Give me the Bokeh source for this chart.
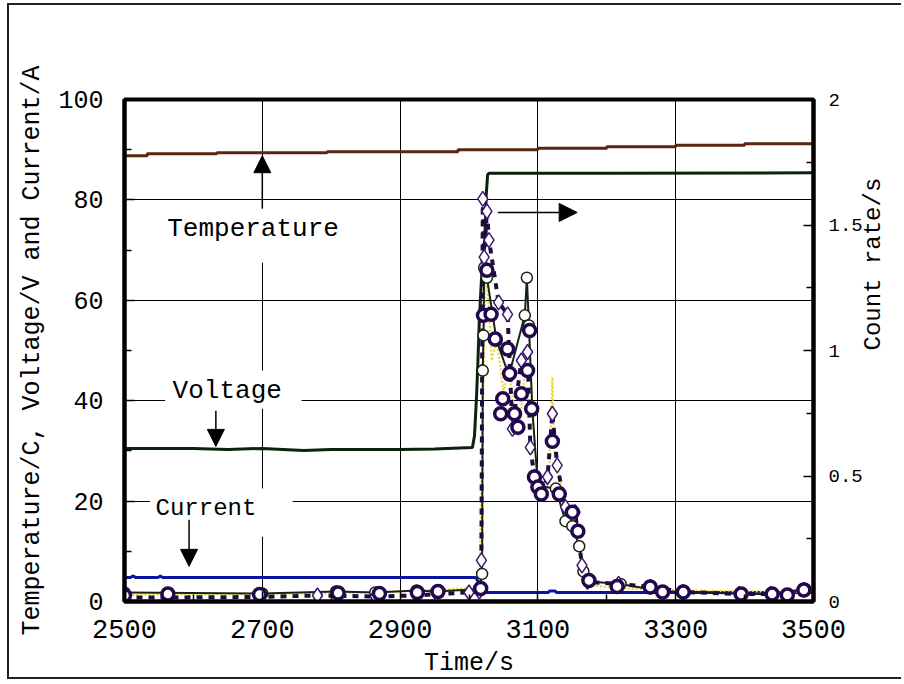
import math
from bokeh.plotting import figure
from bokeh.models import (Range1d, LinearAxis, FixedTicker, Arrow, NormalHead,
                          Label, BoxAnnotation)
from bokeh.embed import file_html
from bokeh.resources import INLINE

FONT = "Liberation Mono"

# ---------------- ticks ----------------
x_ticks = [2500, 2700, 2900, 3100, 3300, 3500]
x_minor = [2600, 2800, 3000, 3200, 3400]
y_ticks = [0, 20, 40, 60, 80, 100]
y_minor = [10, 30, 50, 70, 90]
rate_ticks = [0, 0.5, 1, 1.5, 2]
rate_minor = [0.25, 0.75, 1.25, 1.75]
rate_labels = ["0", "0.5", "1", "1.5", "2"]

# ---------------- left-axis series ----------------
temp_t = [2500, 2533, 2634, 2794, 2984, 3100, 3200, 3300, 3400, 3500]
temp_v = [88.8, 89.2, 89.4, 89.6, 90.0, 90.3, 90.6, 90.9, 91.2, 91.6]

volt_t = [2500, 2600, 2650, 2700, 2760, 2800, 2900, 2950, 3005, 3008, 3011,
          3013, 3015, 3018, 3023, 3025, 3027, 3029, 3200, 3500]
volt_v = [30.5, 30.5, 30.3, 30.5, 30.1, 30.3, 30.3, 30.4, 30.7, 33.0, 41.0,
          48.0, 56.0, 64.0, 72.0, 81.0, 85.0, 85.3, 85.3, 85.4]

cur_t = [2500, 2509, 2512, 2516, 2549, 2552, 2555, 3010, 3022, 3115, 3117,
         3125, 3127, 3500]
cur_v = [4.8, 4.8, 5.1, 4.8, 4.8, 5.1, 4.8, 4.8, 1.8, 1.8, 2.1, 2.1, 1.8, 1.8]

# ---------------- count rate series (right axis) ----------------
a_t = [2500, 2700, 2807, 2864, 2924, 2953, 3015, 3019, 3020, 3021, 3022, 3026,
       3040, 3058, 3081, 3084, 3087, 3092, 3100, 3126, 3140, 3150, 3160, 3166,
       3175, 3220, 3282, 3312, 3395, 3440, 3488]
a_r = [0.036, 0.032, 0.04, 0.036, 0.044, 0.04, 0.05, 0.11, 0.92, 1.06, 1.33,
       1.29, 1.04, 0.90, 1.14, 1.29, 1.10, 0.76, 0.46, 0.45, 0.32, 0.30, 0.22,
       0.12, 0.08, 0.07, 0.04, 0.04, 0.03, 0.03, 0.05]

b_t = [2500, 2563, 2696, 2780, 2864, 2924, 2953, 3000, 3015, 3018, 3020, 3022,
       3026, 3029, 3043, 3056, 3063, 3076, 3085, 3089, 3095, 3105, 3114, 3121,
       3128, 3140, 3154, 3164, 3172, 3217, 3263, 3311, 3392, 3438, 3486]
b_r = [0.016, 0.016, 0.018, 0.024, 0.02, 0.024, 0.03, 0.036, 0.04, 0.164,
       1.604, 1.372, 1.554, 1.44, 1.192, 1.144, 0.688, 0.96, 0.994, 0.614,
       0.496, 0.428, 0.496, 0.748, 0.542, 0.376, 0.356, 0.144, 0.078, 0.07,
       0.058, 0.038, 0.03, 0.03, 0.046]

c_t = [2500, 2563, 2696, 2810, 2870, 2925, 2955, 3017, 3021, 3026, 3032, 3038,
       3046, 3049, 3056, 3059, 3066, 3071, 3076, 3085, 3088, 3091, 3095, 3100,
       3105, 3121, 3131, 3150, 3158, 3174, 3215, 3263, 3281, 3311, 3395, 3440,
       3462, 3486]
c_r = [0.024, 0.03, 0.028, 0.034, 0.032, 0.036, 0.04, 0.052, 1.14, 1.32,
       1.144, 1.046, 0.748, 0.808, 1.006, 0.908, 0.748, 0.694, 0.828, 0.92,
       1.08, 0.768, 0.496, 0.456, 0.428, 0.638, 0.428, 0.356, 0.28, 0.084,
       0.06, 0.058, 0.038, 0.038, 0.03, 0.03, 0.026, 0.046]

y_t = [2500, 2600, 2700, 2800, 2900, 2990, 3015, 3019, 3024, 3028, 3033, 3040,
       3050, 3058, 3066, 3072, 3080, 3087, 3093, 3100, 3108, 3116, 3121, 3124,
       3132, 3145, 3158, 3170, 3180, 3220, 3270, 3330, 3400, 3460, 3500]
y_r = [0.026, 0.028, 0.03, 0.032, 0.04, 0.052, 0.056, 0.6, 1.32, 1.2, 0.96,
       1.04, 0.84, 0.92, 0.76, 0.66, 0.88, 1.04, 0.72, 0.46, 0.42, 0.48, 0.894,
       0.6, 0.48, 0.34, 0.24, 0.1, 0.064, 0.052, 0.048, 0.044, 0.04, 0.038,
       0.04]

# ---------------- figure ----------------
p = figure(width=894, height=676, x_range=Range1d(2500, 3500),
           y_range=Range1d(0, 100), output_backend="svg",
           toolbar_location=None, min_border_left=115, min_border_right=85,
           min_border_top=94, min_border_bottom=80)
p.styles = {"margin-left": "7px", "margin-top": "3px",
            "border-left": "2px solid #222", "border-top": "2px solid #222",
            "border-bottom": "2px solid #222"}
p.extra_y_ranges = {"rate": Range1d(0, 2)}
p.background_fill_color = "white"
p.border_fill_color = "white"
p.outline_line_color = "black"
p.outline_line_width = 4

xax = p.xaxis[0]
lax = p.yaxis[0]
xax.ticker = FixedTicker(ticks=x_ticks, minor_ticks=x_minor)
lax.ticker = FixedTicker(ticks=y_ticks, minor_ticks=y_minor)
p.xgrid.grid_line_color = "black"
p.ygrid.grid_line_color = "black"
p.xgrid.grid_line_width = 1
p.ygrid.grid_line_width = 1

xax.axis_label = "Time/s"
lax.axis_label = "Temperature/C, Voltage/V and Current/A"

ra = LinearAxis(y_range_name="rate",
                ticker=FixedTicker(ticks=rate_ticks, minor_ticks=rate_minor),
                axis_label="Count rate/s")
ra.major_label_overrides = {t: l for t, l in zip(rate_ticks, rate_labels)}
p.add_layout(ra, "right")
if "axis_label_orientation" in ra.properties():
    ra.axis_label_orientation = math.pi / 2

for ax in [xax, lax, ra]:
    ax.axis_line_width = 4
    ax.axis_line_color = "black"
    ax.major_tick_in = 10
    ax.major_tick_out = 0
    ax.minor_tick_in = 7
    ax.minor_tick_out = 0
    ax.major_tick_line_width = 1.5
    ax.minor_tick_line_width = 1.5
    ax.major_tick_line_color = "black"
    ax.minor_tick_line_color = "black"
    ax.major_label_text_font = FONT
    ax.axis_label_text_font = FONT
    ax.axis_label_text_font_style = "normal"
    ax.major_label_text_color = "black"
    ax.axis_label_text_color = "black"
    ax.axis_label_text_font_size = "25px"

xax.major_label_text_font_size = "27px"
lax.major_label_text_font_size = "25px"
ra.major_label_text_font_size = "19px"
ra.axis_label_text_font_size = "24px"
xax.major_label_standoff = 18
xax.axis_label_standoff = 8
lax.major_label_standoff = 21
lax.axis_label_standoff = 8
ra.major_label_standoff = 15
ra.axis_label_standoff = 8

# ---------------- annotation boxes (mask grid behind texts) ----------------
for l, r, b, t in [(2549, 2823, 67.5, 78.3), (2559, 2757, 38.4, 46.0),
                   (2537, 2744, 12.9, 22.5)]:
    p.add_layout(BoxAnnotation(left=l, right=r, bottom=b, top=t,
                               fill_color="white", fill_alpha=1.0,
                               line_alpha=0))

# ---------------- left-axis lines ----------------
p.step(temp_t, temp_v, mode="after", line_color="#5b2512", line_width=3)
p.line(volt_t, volt_v, line_color="#0c220c", line_width=3)
p.line(cur_t, cur_v, line_color="#0a14a0", line_width=3)

# ---------------- count rate ----------------
p.line(y_t, y_r, y_range_name="rate", line_color="#f2d21a", line_width=2,
       line_dash="2 2")
p.line(a_t, a_r, y_range_name="rate", line_color="#122612", line_width=2)
p.line(b_t, b_r, y_range_name="rate", line_color="#1e0c40", line_width=4,
       line_dash="6 6")
p.scatter(a_t, a_r, y_range_name="rate", marker="circle", size=11,
          fill_color="white", line_color="#122612", line_width=1.5)
p.scatter(b_t, b_r, y_range_name="rate", marker="diamond", size=15,
          fill_color="white", line_color="#3a1a70", line_width=1.5)
p.scatter(c_t, c_r, y_range_name="rate", marker="circle", size=12,
          fill_color="white", line_color="#24084e", line_width=3.5)

# ---------------- arrows & labels ----------------
def head(s=17):
    return NormalHead(size=s, fill_color="black", line_color="black")

p.add_layout(Arrow(x_start=2700, y_start=78.3, x_end=2700, y_end=88.8,
                   line_width=1.5, end=head()))
p.add_layout(Arrow(x_start=2632.6, y_start=38.0, x_end=2632.6, y_end=30.9,
                   line_width=1.5, end=head()))
p.add_layout(Arrow(x_start=2593.7, y_start=16.3, x_end=2593.7, y_end=7.0,
                   line_width=1.5, end=head()))
p.add_layout(Arrow(x_start=3041.8, y_start=1.55, x_end=3157, y_end=1.55,
                   y_range_name="rate", line_width=1.5, end=head(18)))

for txt, x, y, fs in [("Temperature", 2686.6, 74.3, "26px"),
                      ("Voltage", 2649.1, 42.0, "26px"),
                      ("Current", 2618.2, 18.5, "24px")]:
    p.add_layout(Label(x=x, y=y, text=txt, text_align="center",
                       text_baseline="middle", text_font=FONT,
                       text_font_size=fs, text_color="black"))

open("out.html", "w").write(file_html(p, INLINE))
